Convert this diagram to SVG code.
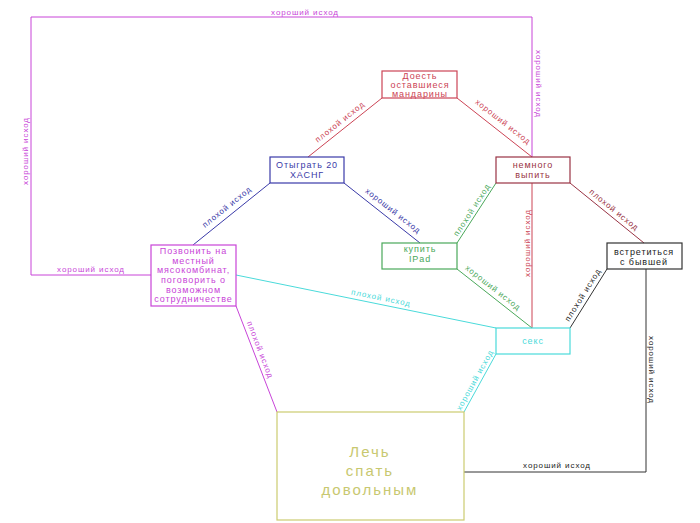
<svg xmlns="http://www.w3.org/2000/svg" width="700" height="523" viewBox="0 0 700 523">
<style>
.box{fill:none;stroke-width:1.2}
.ln{fill:none;stroke-width:1}
.lbl{font-family:"Liberation Sans",Arial,sans-serif;font-size:8px;text-anchor:middle;letter-spacing:0.9px}
.nt{font-family:"Liberation Sans",Arial,sans-serif;font-size:9px;text-anchor:middle;letter-spacing:0.9px}
.mag{stroke:#c844d8}.magf{fill:#c844d8}
.red{stroke:#cc4455}.redf{fill:#cc4455}
.blu{stroke:#3a3aa8}.bluf{fill:#3a3aa8}
.grn{stroke:#4aa85a}.grnf{fill:#4aa85a}
.drd{stroke:#993344}.drdf{fill:#993344}
.cyn{stroke:#4adada}.cynf{fill:#4adada}
.blk{stroke:#333333}.blkf{fill:#222222}
.yel{stroke:#cccc70}.yelf{fill:#c8c870}
</style>
<rect width="700" height="523" fill="#ffffff"/>
<g id="connectors">
<polyline class="ln mag" points="151,275 31,275 31,17 532,17 532,157"/>
<line class="ln red" x1="308" y1="157" x2="382" y2="98"/>
<line class="ln red" x1="457" y1="98" x2="532" y2="157"/>
<line class="ln blu" x1="270" y1="183" x2="193" y2="245"/>
<line class="ln blu" x1="344" y1="183" x2="420" y2="243"/>
<line class="ln grn" x1="457" y1="243" x2="496" y2="183"/>
<line class="ln drd" x1="570" y1="183" x2="644" y2="243"/>
<line class="ln red" x1="532" y1="183" x2="532" y2="328"/>
<line class="ln grn" x1="457" y1="269" x2="532" y2="328"/>
<line class="ln blk" x1="570" y1="328" x2="607" y2="269"/>
<line class="ln cyn" x1="236" y1="275" x2="496" y2="328"/>
<line class="ln mag" x1="236" y1="306" x2="277" y2="412"/>
<line class="ln cyn" x1="496" y1="354" x2="464" y2="412"/>
<polyline class="ln blk" points="646,269 646,472 464,472" stroke="#555555"/>
<g id="labels">
<text class="lbl magf" transform="translate(305,12)" y="2.5">хороший исход</text>
<text class="lbl magf" transform="translate(25,151) rotate(-90)" y="2.5">хороший исход</text>
<text class="lbl magf" transform="translate(538,84) rotate(90)" y="2.5">хороший исход</text>
<text class="lbl magf" transform="translate(91,269)" y="2.5">хороший исход</text>
<text class="lbl redf" transform="translate(340,122) rotate(-38.6)" y="2.5">плохой исход</text>
<text class="lbl redf" transform="translate(503,122) rotate(38.2)" y="2.5">хороший исход</text>
<text class="lbl bluf" transform="translate(227,207) rotate(-38.8)" y="2.5">плохой исход</text>
<text class="lbl bluf" transform="translate(393,211) rotate(38.3)" y="2.5">хороший исход</text>
<text class="lbl grnf" transform="translate(472,210) rotate(-57)" y="2.5">плохой исход</text>
<text class="lbl redf" transform="translate(527,243) rotate(-90)" y="2.5">хороший исход</text>
<text class="lbl drdf" transform="translate(614,210) rotate(39)" y="2.5">плохой исход</text>
<text class="lbl grnf" transform="translate(493,288) rotate(38.2)" y="2.5">хороший исход</text>
<text class="lbl blkf" transform="translate(583,295) rotate(-58)" y="2.5">плохой исход</text>
<text class="lbl cynf" transform="translate(381,298) rotate(11.5)" y="2.5">плохой исход</text>
<text class="lbl magf" transform="translate(260,350) rotate(68.9)" y="2.5">плохой исход</text>
<text class="lbl cynf" transform="translate(475,380) rotate(-61)" y="2.5">хороший исход</text>
<text class="lbl blkf" transform="translate(651,370) rotate(90)" y="2.5">хороший исход</text>
<text class="lbl blkf" transform="translate(557,465)" y="2.5">хороший исход</text>
</g>
</g>
<g id="node-doest">
<rect class="box red" x="382" y="71" width="75" height="27"/>
<text class="nt redf" x="420" y="79">Доесть</text>
<text class="nt redf" x="420" y="88">оставшиеся</text>
<text class="nt redf" x="420" y="97">мандарины</text>
</g>
<g id="node-otygrat">
<rect class="box blu" x="270" y="157" width="74" height="26"/>
<text class="nt bluf" x="307" y="168">Отыграть 20</text>
<text class="nt bluf" x="307" y="177.5">ХАСНГ</text>
</g>
<g id="node-nemnogo">
<rect class="box drd" x="496" y="157" width="74" height="26"/>
<text class="nt drdf" x="533" y="167.5">немного</text>
<text class="nt drdf" x="533" y="177.5">выпить</text>
</g>
<g id="node-kupit">
<rect class="box grn" x="382" y="243" width="75" height="26"/>
<text class="nt grnf" x="420" y="252">купить</text>
<text class="nt grnf" x="420" y="262">IPad</text>
</g>
<g id="node-vstretitsya">
<rect class="box blk" x="607" y="243" width="75" height="26"/>
<text class="nt blkf" x="644" y="254.5">встретиться</text>
<text class="nt blkf" x="644" y="264.5">с бывшей</text>
</g>
<g id="node-seks">
<rect class="box cyn" x="496" y="328" width="74" height="26"/>
<text class="nt cynf" x="533" y="344">секс</text>
</g>
<g id="node-pozvonit">
<rect class="box mag" x="151" y="245" width="85" height="61"/>
<text class="nt magf" x="193.5" y="254">Позвонить на</text>
<text class="nt magf" x="193.5" y="263.5">местный</text>
<text class="nt magf" x="193.5" y="273">мясокомбинат,</text>
<text class="nt magf" x="193.5" y="283">поговорить о</text>
<text class="nt magf" x="193.5" y="292.5">возможном</text>
<text class="nt magf" x="193.5" y="302">сотрудничестве</text>
</g>
<g id="node-lech">
<rect class="box yel" x="277" y="412" width="187" height="108"/>
<text class="nt yelf" x="370" y="457" style="font-size:15px;letter-spacing:2px">Лечь</text>
<text class="nt yelf" x="370" y="476" style="font-size:15px;letter-spacing:2px">спать</text>
<text class="nt yelf" x="370" y="495" style="font-size:15px;letter-spacing:2px">довольным</text>
</g>
</svg>
